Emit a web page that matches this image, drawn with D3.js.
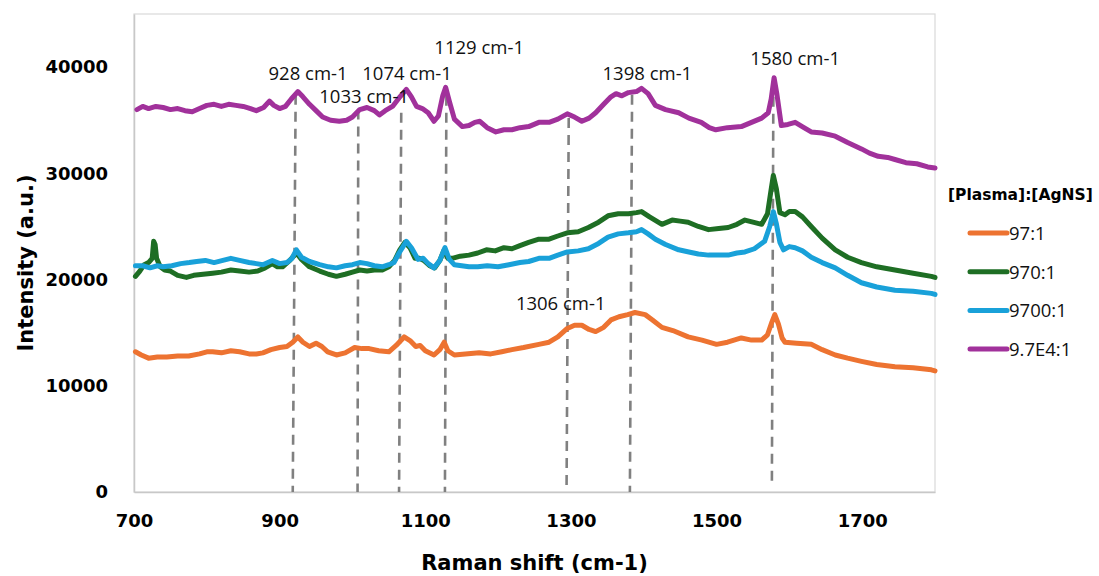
<!DOCTYPE html>
<html>
<head>
<meta charset="utf-8">
<script src="https://cdn.jsdelivr.net/npm/d3@7"></script>
<style>
  html, body { margin: 0; padding: 0; background: #fff; }
  svg { display: block; }
</style>
</head>
<body>
<svg id="chart" width="1099" height="576"></svg>
<script>
// Raman spectra: [shift (cm-1), intensity (a.u.)]
const series97 = [[702,13200],[710,12900],[720,12600],[732,12700],[745,12700],[760,12800],[775,12800],[790,13000],[800,13200],[808,13200],[820,13100],[833,13300],[845,13200],[858,13000],[868,13000],[877,13100],[888,13400],[900,13600],[910,13700],[918,14100],[925,14600],[932,14100],[941,13700],[950,14000],[958,13700],[966,13200],[978,12900],[990,13100],[1003,13600],[1013,13500],[1023,13500],[1036,13300],[1050,13200],[1060,13800],[1071,14600],[1080,14200],[1087,13700],[1093,13800],[1100,13300],[1112,12900],[1120,13400],[1126,14100],[1131,13300],[1140,12900],[1155,13000],[1174,13100],[1190,13000],[1205,13200],[1219,13400],[1235,13600],[1256,13900],[1270,14100],[1282,14600],[1295,15400],[1305,15700],[1315,15700],[1325,15300],[1334,15100],[1345,15500],[1355,16200],[1366,16500],[1378,16700],[1388,16900],[1402,16700],[1412,16200],[1425,15500],[1440,15200],[1461,14600],[1480,14300],[1500,13900],[1515,14100],[1534,14500],[1548,14300],[1562,14300],[1570,14800],[1576,16000],[1580,16700],[1585,15800],[1590,14500],[1594,14100],[1610,14000],[1630,13900],[1645,13400],[1663,12900],[1680,12600],[1699,12300],[1720,12000],[1745,11800],[1770,11700],[1795,11500],[1800,11400]];

const series970 = [[702,20300],[708,20800],[714,21400],[720,21600],[725,22000],[727,23600],[729,23300],[731,22000],[736,21200],[742,20900],[750,20800],[760,20400],[772,20200],[782,20400],[795,20500],[808,20600],[820,20700],[833,20900],[845,20800],[858,20700],[870,20800],[880,21100],[890,21500],[897,21200],[904,21200],[914,21800],[923,22500],[930,21900],[941,21200],[955,20800],[967,20500],[978,20300],[990,20500],[1000,20700],[1010,20900],[1020,20800],[1030,20900],[1041,20900],[1050,21200],[1058,21800],[1065,22800],[1072,23500],[1079,23000],[1086,22000],[1092,22000],[1098,21800],[1106,21300],[1113,21100],[1120,21800],[1126,22800],[1131,22000],[1137,22000],[1148,22200],[1160,22300],[1172,22500],[1184,22800],[1196,22700],[1208,23000],[1219,22900],[1230,23200],[1242,23500],[1256,23800],[1270,23800],[1282,24100],[1295,24400],[1310,24500],[1324,24900],[1338,25400],[1351,26000],[1365,26200],[1379,26200],[1390,26300],[1397,26400],[1408,25900],[1425,25200],[1439,25600],[1450,25500],[1461,25400],[1475,25000],[1489,24700],[1503,24800],[1516,24900],[1528,25200],[1539,25600],[1550,25400],[1562,25200],[1570,26200],[1575,28500],[1578,29800],[1582,28600],[1587,26300],[1594,26100],[1600,26400],[1608,26400],[1618,25900],[1630,25000],[1645,23900],[1663,22800],[1680,22100],[1699,21600],[1720,21200],[1745,20900],[1770,20600],[1795,20300],[1800,20200]];

const series9700 = [[702,21300],[712,21300],[722,21100],[732,21300],[740,21200],[752,21300],[764,21500],[776,21600],[786,21700],[798,21800],[810,21600],[822,21800],[833,22000],[845,21800],[858,21600],[868,21500],[877,21400],[890,21800],[900,21500],[910,21600],[917,22000],[923,22800],[930,22100],[941,21700],[955,21400],[967,21200],[978,21100],[990,21300],[1000,21400],[1010,21600],[1020,21500],[1030,21300],[1041,21200],[1050,21400],[1057,21600],[1064,22500],[1074,23600],[1081,23000],[1090,21900],[1097,22000],[1104,21500],[1112,21100],[1120,21800],[1127,23000],[1133,21900],[1140,21400],[1150,21300],[1160,21200],[1172,21200],[1185,21300],[1200,21200],[1215,21400],[1230,21600],[1242,21700],[1256,22000],[1270,22000],[1282,22300],[1295,22600],[1310,22700],[1324,22900],[1338,23400],[1351,24000],[1365,24300],[1379,24400],[1390,24500],[1397,24700],[1406,24300],[1416,23800],[1430,23300],[1448,22800],[1462,22600],[1475,22400],[1489,22300],[1503,22300],[1516,22300],[1528,22500],[1539,22600],[1552,22900],[1566,23600],[1573,25000],[1578,26400],[1582,25300],[1587,23500],[1592,22800],[1600,23100],[1608,23000],[1618,22700],[1630,22100],[1645,21600],[1663,21100],[1680,20400],[1699,19700],[1720,19300],[1745,19000],[1770,18900],[1795,18700],[1800,18600]];

const series97k = [[704,36000],[712,36300],[720,36100],[730,36300],[740,36200],[750,36000],[760,36100],[770,35900],[780,35800],[790,36100],[800,36400],[810,36500],[820,36300],[830,36500],[840,36400],[850,36300],[860,36100],[868,35900],[878,36200],[886,36800],[892,36400],[900,36100],[908,36300],[916,37000],[925,37700],[932,37200],[941,36500],[950,35900],[959,35300],[970,35000],[982,34900],[992,35000],[1000,35300],[1010,36000],[1020,36200],[1030,35900],[1037,35500],[1045,35900],[1055,36300],[1064,37100],[1074,37900],[1081,37200],[1088,36300],[1096,36100],[1104,35700],[1112,34900],[1118,35400],[1124,37300],[1128,38100],[1133,36800],[1140,35100],[1151,34400],[1160,34500],[1168,34800],[1175,34900],[1185,34300],[1197,33900],[1208,34100],[1219,34100],[1230,34300],[1242,34400],[1256,34800],[1270,34800],[1282,35100],[1295,35600],[1305,35300],[1315,34900],[1325,35200],[1334,35700],[1345,36500],[1355,37200],[1362,37500],[1370,37300],[1379,37600],[1390,37700],[1397,38000],[1406,37500],[1416,36400],[1430,36000],[1448,35700],[1462,35200],[1479,34800],[1490,34300],[1499,34100],[1515,34300],[1534,34400],[1548,34800],[1562,35200],[1571,35700],[1575,37000],[1579,39000],[1583,37400],[1589,34500],[1598,34600],[1608,34800],[1620,34300],[1630,33900],[1645,33800],[1663,33500],[1680,32900],[1699,32300],[1710,31900],[1722,31600],[1735,31500],[1745,31300],[1760,31000],[1775,30900],[1790,30600],[1800,30500]];

const seriesNames = ["97:1", "970:1", "9700:1", "9.7E4:1"];
const seriesColors = ["#ED7331", "#1E6E24", "#19A1D9", "#A1319B"];
const allSeries = [series97, series970, series9700, series97k];

// Peak guide lines: shift at top/bottom, intensity at top/bottom
const guideTopX = [922, 1008, 1067, 1129, 1297, 1384, 1578];
const guideBottomX = [918, 1007, 1064, 1127, 1294, 1381, 1576];
const guideTopY = [37400, 36000, 35700, 37300, 35200, 37400, 37200];
const guideBottomY = [0, 0, 0, 0, 0, 0, 800];

// Peak labels: text, centre shift, baseline intensity
const peakLabels = ["928 cm-1", "1033 cm-1", "1074 cm-1", "1129 cm-1", "1398 cm-1", "1580 cm-1", "1306 cm-1"];
const peakLabelX = [939, 1016, 1075, 1174, 1405, 1608, 1286];
const peakLabelY = [38800, 36650, 38800, 41250, 38800, 40200, 17150];

const xTicks = [700, 900, 1100, 1300, 1500, 1700];
const yTicks = [0, 10000, 20000, 30000, 40000];

const svg = d3.select("#chart");
const plot = { left: 134, right: 935, top: 14, bottom: 492 };

const x = d3.scaleLinear().domain([700, 1800]).range([plot.left, plot.right]);
const y = d3.scaleLinear().domain([0, 45000]).range([plot.bottom, plot.top]);

// plot frame
svg.append("rect")
  .attr("x", plot.left).attr("y", plot.top)
  .attr("width", plot.right - plot.left).attr("height", plot.bottom - plot.top)
  .attr("fill", "none").attr("stroke", "#d9d9d9").attr("stroke-width", 1.2);

// axes
const tickFont = "'DejaVu Sans', sans-serif";
const xAxis = svg.append("g")
  .attr("transform", `translate(0,${plot.bottom})`)
  .call(d3.axisBottom(x).tickValues(xTicks).tickSize(0).tickPadding(22).tickFormat(d3.format("d")));
const yAxis = svg.append("g")
  .attr("transform", `translate(${plot.left},0)`)
  .call(d3.axisLeft(y).tickValues(yTicks).tickSize(0).tickPadding(26).tickFormat(d3.format("d")));
[xAxis, yAxis].forEach(g => {
  g.select(".domain").attr("stroke", "#c8c8c8").attr("stroke-width", 1.5);
  g.selectAll("text")
    .attr("font-family", tickFont).attr("font-weight", "bold")
    .attr("font-size", 18).attr("fill", "#000");
});

// dashed guides
svg.append("g").selectAll("line")
  .data(guideTopX)
  .join("line")
  .attr("x1", (d, i) => x(d)).attr("y1", (d, i) => y(guideTopY[i]))
  .attr("x2", (d, i) => x(guideBottomX[i])).attr("y2", (d, i) => y(guideBottomY[i]))
  .attr("stroke", "#808080").attr("stroke-width", 2.6)
  .attr("stroke-dasharray", "10,7");

// spectra
const line = d3.line().x(d => x(d[0])).y(d => y(d[1]));
svg.append("g").selectAll("path")
  .data(allSeries)
  .join("path")
  .attr("d", line)
  .attr("fill", "none")
  .attr("stroke", (d, i) => seriesColors[i])
  .attr("stroke-width", 5)
  .attr("stroke-linejoin", "round")
  .attr("stroke-linecap", "round");

// peak labels
svg.append("g").selectAll("text")
  .data(peakLabels)
  .join("text")
  .attr("x", (d, i) => x(peakLabelX[i]))
  .attr("y", (d, i) => y(peakLabelY[i]))
  .attr("text-anchor", "middle")
  .attr("font-family", "'Open Sans', sans-serif")
  .attr("font-size", 18.5)
  .attr("fill", "#111")
  .text(d => d);

// axis titles
svg.append("text")
  .attr("x", (plot.left + plot.right) / 2).attr("y", 570)
  .attr("text-anchor", "middle")
  .attr("font-family", tickFont).attr("font-weight", "bold").attr("font-size", 21)
  .text("Raman shift (cm-1)");
svg.append("text")
  .attr("transform", `translate(33,${(plot.top + plot.bottom) / 2 + 10}) rotate(-90)`)
  .attr("text-anchor", "middle")
  .attr("font-family", tickFont).attr("font-weight", "bold").attr("font-size", 21)
  .text("Intensity (a.u.)");

// legend
const legend = svg.append("g");
legend.append("text")
  .attr("x", 948).attr("y", 200)
  .attr("font-family", tickFont).attr("font-weight", "bold").attr("font-size", 15.5)
  .text("[Plasma]:[AgNS]");
const item = legend.selectAll("g.item")
  .data(seriesNames)
  .join("g").attr("class", "item")
  .attr("transform", (d, i) => `translate(0,${233 + i * 38.7})`);
item.append("line")
  .attr("x1", 970).attr("x2", 1007).attr("y1", 0).attr("y2", 0)
  .attr("stroke", (d, i) => seriesColors[i]).attr("stroke-width", 5)
  .attr("stroke-linecap", "round");
item.append("text")
  .attr("x", 1009).attr("y", 7)
  .attr("font-family", "'Open Sans', sans-serif").attr("font-size", 18.5)
  .attr("fill", "#111")
  .text(d => d);
</script>
</body>
</html>
